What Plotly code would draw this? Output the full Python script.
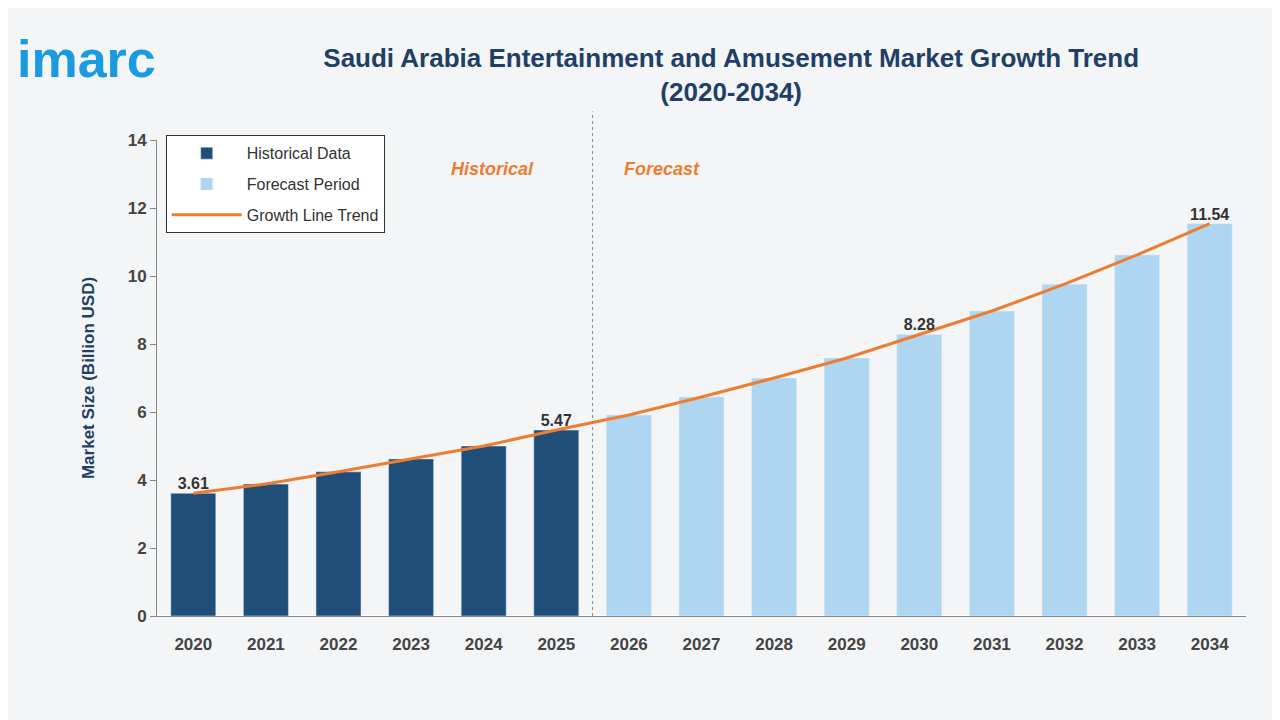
import plotly.graph_objects as go

years = [str(y) for y in range(2020, 2035)]
values = [3.61, 3.88, 4.24, 4.62, 5.00, 5.47, 5.91, 6.44, 7.00, 7.59, 8.28, 8.97, 9.76, 10.62, 11.54]
hist_n = 6
labeled = {"2020": "3.61", "2025": "5.47", "2030": "8.28", "2034": "11.54"}

fig = go.Figure()
fig.add_bar(x=years[:hist_n], y=values[:hist_n], name="Historical Data",
            marker_color="#1f4e79", width=0.62, legendgroup="a")
fig.add_bar(x=years[hist_n:], y=values[hist_n:], name="Forecast Period",
            marker_color="#aed6f1", width=0.62, legendgroup="b")
fig.add_scatter(x=years, y=values, mode="lines", name="Growth Line Trend",
                line=dict(color="#ed7d31", width=3), legendgroup="c")
fig.add_scatter(x=list(labeled.keys()), y=[values[years.index(k)] for k in labeled],
                mode="text", text=["<b>%s</b>" % t for t in labeled.values()],
                textposition="top center",
                textfont=dict(size=16, color="#333333"),
                showlegend=False, hoverinfo="skip", cliponaxis=False)

fig.add_shape(type="line", xref="x", yref="paper", x0=5.5, x1=5.5, y0=0, y1=1.06,
              line=dict(color="#888888", width=1, dash="dot"))
fig.add_annotation(x=4.12, y=13.15, text="<i><b>Historical</b></i>", showarrow=False,
                   font=dict(size=18, color="#ed7d31"))
fig.add_annotation(x=6.45, y=13.15, text="<i><b>Forecast</b></i>", showarrow=False,
                   font=dict(size=18, color="#ed7d31"))
fig.add_annotation(xref="paper", yref="paper", x=-0.13, y=1.17, text="<b>imarc</b>",
                   showarrow=False, xanchor="left", yanchor="middle",
                   font=dict(size=52, color="#1a9be0", family="Arial"))

fig.update_layout(
    width=1280, height=720,
    paper_bgcolor="#f4f5f7", plot_bgcolor="rgba(0,0,0,0)",
    margin=dict(l=149, r=42, t=132, b=112),
    font=dict(family="Arial", color="#555555"),
    title=dict(text="<b>Saudi Arabia Entertainment and Amusement Market Growth Trend<br>(2020-2034)</b>",
               x=0.565, xanchor="center", y=0.918, yanchor="top",
               font=dict(size=26, color="#1f3f66")),
    barmode="overlay",
    legend=dict(x=0.008, y=1.01, xanchor="left", yanchor="top", bgcolor="white",
                bordercolor="#333333", borderwidth=1,
                font=dict(size=16, color="#333333"), tracegroupgap=7, itemwidth=70,
                entrywidth=195),
    xaxis=dict(range=[-0.5, 14.5], showline=True, linecolor="#888888", ticks="", showgrid=False,
               tickprefix="<b>", ticksuffix="</b>", ticklabelstandoff=13,
               tickfont=dict(size=17, color="#444444")),
    yaxis=dict(range=[0, 14], dtick=2, showline=True, linecolor="#888888",
               ticks="outside", ticklen=6, tickcolor="#888888", showgrid=False,
               tickprefix="<b>", ticksuffix="</b>",
               tickfont=dict(size=17, color="#444444"),
               title=dict(text="<b>Market Size (Billion USD)</b>", standoff=28,
                          font=dict(size=17, color="#1f3f66"))),
)
fig.write_html("out.html")
